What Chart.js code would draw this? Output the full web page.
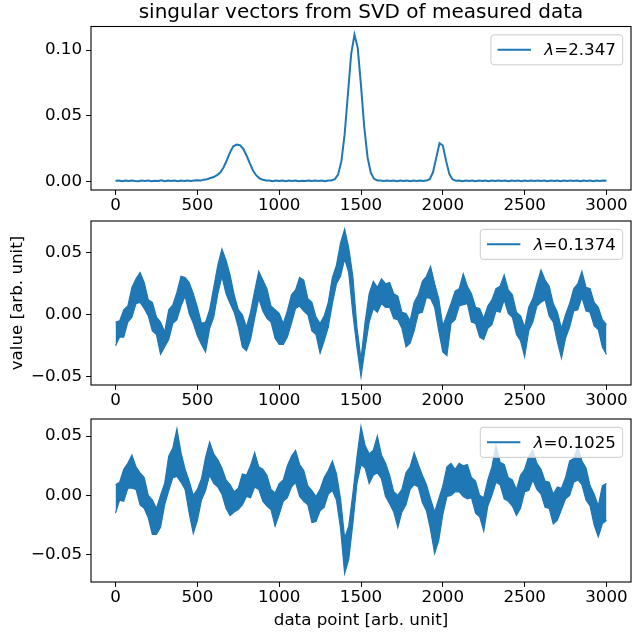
<!DOCTYPE html>
<html>
<head>
<meta charset="utf-8">
<script src="https://cdn.jsdelivr.net/npm/chart.js@4/dist/chart.umd.min.js"></script>
<style>
  html, body { margin: 0; padding: 0; background: #fff; }
  #wrap { position: relative; width: 632px; height: 633px; }
  canvas { position: absolute; left: 0; }
</style>
</head>
<body>
<div id="wrap">
  <canvas id="c1" width="632" height="214" style="top:0px"></canvas>
  <canvas id="c2" width="632" height="196" style="top:214px"></canvas>
  <canvas id="c3" width="632" height="223" style="top:410px"></canvas>
</div>
<script>
const LINE_COLOR = '#1f77b4';
const FONT_FAMILY = 'DejaVu Sans';
const FS = 16.7;

const titleText = 'singular vectors from SVD of measured data';
const xTitle = 'data point [arb. unit]';
const yTitle = 'value [arb. unit]';

const xTicks = [0, 500, 1000, 1500, 2000, 2500, 3000];
const xRange = [-150, 3150];

// panel 1 - first singular vector, one value every 20 data points
const v1Step = 20;
const v1 = [
  0.0003, 0.0006, 0.0000, 0.0005, 0.0001, 0.0006, 0.0002, 0.0000, 0.0005, 0.0001,   // 0-180
  0.0006, 0.0000, 0.0004, 0.0002, 0.0007, 0.0000, 0.0005, 0.0001, 0.0006, 0.0000,   // 200-380
  0.0005, 0.0002, 0.0006, 0.0001, 0.0005,                                           // 400-480
  0.0007, 0.0006, 0.0012, 0.0015, 0.0024, 0.0032, 0.0047, 0.0066, 0.0105, 0.0160,   // 500-680
  0.0222, 0.0266, 0.0280, 0.0275, 0.0248, 0.0198, 0.0138, 0.0082, 0.0044, 0.0022,   // 700-880
  0.0011, 0.0006,                                                                   // 900-920
  0.0005, 0.0000, 0.0005, 0.0001, 0.0006, 0.0000, 0.0005, 0.0002, 0.0006, 0.0000,   // 940-1120
  0.0004, 0.0001, 0.0006, 0.0001, 0.0005, 0.0002, 0.0006, 0.0000, 0.0005,           // 1140-1300
  0.0006, 0.0015, 0.0051, 0.0151, 0.0357, 0.0663, 0.0970, 0.1118, 0.1017, 0.0729,   // 1320-1500
  0.0411, 0.0183, 0.0064, 0.0018, 0.0006,                                           // 1520-1600
  0.0005, 0.0001, 0.0005, 0.0002, 0.0006, 0.0000, 0.0005, 0.0001, 0.0006, 0.0000,   // 1620-1800
  0.0005, 0.0002, 0.0006, 0.0001, 0.0005,                                           // 1820-1900
  0.0016, 0.0068, 0.0180, 0.0290, 0.0272, 0.0155, 0.0054, 0.0013, 0.0004,           // 1920-2080
  0.0006, 0.0000, 0.0005, 0.0001, 0.0006, 0.0000, 0.0005, 0.0002, 0.0006, 0.0000,   // 2100-2280
  0.0005, 0.0001, 0.0006, 0.0002, 0.0005, 0.0000, 0.0006, 0.0001, 0.0005, 0.0000,   // 2300-2480
  0.0006, 0.0001, 0.0005, 0.0001, 0.0006, 0.0002, 0.0005, 0.0000, 0.0006, 0.0001,   // 2500-2680
  0.0005, 0.0000, 0.0006, 0.0002, 0.0005, 0.0001, 0.0006, 0.0000, 0.0005, 0.0001,   // 2700-2880
  0.0006, 0.0000, 0.0005, 0.0002, 0.0006, 0.0003                                    // 2900-3000
];
const v1Label = '=2.347';
const v1Range = [-0.0067, 0.118];
const v1Ticks = [0, 0.05, 0.10];

// panels 2 and 3 are very noisy: read as upper and lower edge of the band every 25 points
const bandStep = 25;

const v2Upper = [
  -0.006, -0.005, 0.004, 0.007, 0.022, 0.029, 0.034, 0.026, 0.012, 0.010,     // 0-225
  -0.002, -0.006, -0.014, 0.004, 0.008, 0.018, 0.031, 0.030, 0.026, 0.017,    // 250-475
  0.006, -0.007, -0.006, 0.004, 0.022, 0.040, 0.053, 0.044, 0.032, 0.016,     // 500-725
  0.004, 0.000, -0.010, 0.002, 0.019, 0.035, 0.028, 0.021, 0.007, 0.004,      // 750-975
  0.001, -0.007, 0.003, 0.016, 0.020, 0.030, 0.028, 0.013, 0.010, -0.002,     // 1000-1225
  -0.007, -0.001, 0.010, 0.030, 0.040, 0.058, 0.069, 0.054, 0.031, -0.010,    // 1250-1475
  -0.036, -0.006, 0.017, 0.027, 0.022, 0.029, 0.025, 0.026, 0.017, 0.015,     // 1500-1725
  0.002, 0.001, -0.005, 0.010, 0.016, 0.027, 0.031, 0.039, 0.025, 0.013,      // 1750-1975
  -0.009, 0.000, 0.009, 0.019, 0.021, 0.033, 0.023, 0.017, 0.006, 0.005,      // 2000-2225
  -0.003, 0.007, 0.012, 0.021, 0.023, 0.032, 0.020, 0.016, 0.002, -0.001,     // 2250-2475
  -0.010, 0.006, 0.013, 0.025, 0.036, 0.028, 0.023, 0.009, 0.002, -0.011,     // 2500-2725
  0.000, 0.009, 0.021, 0.025, 0.035, 0.022, 0.021, 0.010, 0.006, -0.004,      // 2750-2975
  -0.008                                                                      // 3000
];
const v2Lower = [
  -0.025, -0.018, -0.018, -0.006, -0.002, 0.009, 0.010, 0.005, -0.001, -0.013,
  -0.016, -0.032, -0.026, -0.020, -0.007, -0.004, 0.007, 0.015, 0.001, -0.007,
  -0.017, -0.024, -0.030, -0.011, -0.002, 0.017, 0.031, 0.017, 0.009, 0.002,
  -0.010, -0.026, -0.029, -0.020, -0.003, 0.013, 0.003, -0.003, -0.006, -0.019,
  -0.024, -0.024, -0.018, -0.007, 0.005, 0.007, 0.003, 0.000, -0.013, -0.016,
  -0.031, -0.021, -0.010, 0.009, 0.025, 0.031, 0.045, 0.034, 0.001, -0.026,
  -0.050, -0.027, -0.006, 0.005, 0.002, 0.009, 0.006, 0.006, -0.003, -0.004,
  -0.011, -0.026, -0.023, -0.013, 0.001, 0.002, 0.014, 0.013, 0.006, -0.013,
  -0.030, -0.033, -0.007, -0.004, 0.007, 0.008, 0.009, -0.006, -0.007, -0.018,
  -0.020, -0.011, -0.008, 0.003, 0.002, 0.012, 0.001, -0.002, -0.016, -0.021,
  -0.034, -0.013, -0.006, 0.007, 0.010, 0.012, -0.001, -0.006, -0.022, -0.035,
  -0.019, -0.010, 0.003, 0.004, 0.014, 0.003, 0.002, -0.009, -0.012, -0.026,
  -0.032
];
const v2Label = '=0.1374';
const v2Range = [-0.0567, 0.0756];
const v2Ticks = [-0.05, 0, 0.05];

const v3Upper = [
  0.009, 0.011, 0.022, 0.027, 0.034, 0.024, 0.019, 0.015, 0.000, -0.004,      // 0-225
  -0.011, 0.000, 0.010, 0.033, 0.040, 0.056, 0.036, 0.022, 0.012, 0.000,      // 250-475
  0.005, 0.014, 0.032, 0.045, 0.035, 0.030, 0.023, 0.013, 0.009, 0.003,       // 500-725
  0.006, 0.018, 0.017, 0.025, 0.036, 0.024, 0.022, 0.017, 0.005, 0.002,       // 750-975
  0.010, 0.013, 0.025, 0.033, 0.038, 0.026, 0.021, 0.008, 0.004, -0.001,      // 1000-1225
  0.005, 0.015, 0.021, 0.029, 0.018, -0.003, -0.036, -0.026, 0.001, 0.032,    // 1250-1475
  0.058, 0.042, 0.035, 0.038, 0.050, 0.034, 0.027, 0.017, 0.003, 0.000,       // 1500-1725
  0.005, 0.019, 0.024, 0.036, 0.026, 0.017, 0.009, -0.003, -0.014, -0.003,    // 1750-1975
  0.008, 0.024, 0.027, 0.022, 0.027, 0.025, 0.026, 0.015, 0.012, 0.000,       // 2000-2225
  -0.002, 0.013, 0.024, 0.042, 0.028, 0.026, 0.015, 0.013, 0.005, 0.017,      // 2250-2475
  0.022, 0.033, 0.038, 0.027, 0.022, 0.012, 0.011, 0.001, 0.007, 0.006,       // 2500-2725
  0.015, 0.029, 0.031, 0.041, 0.029, 0.023, 0.008, 0.001, -0.009, 0.008,      // 2750-2975
  0.010                                                                       // 3000
];
const v3Lower = [
  -0.015, -0.004, -0.005, 0.006, 0.006, 0.005, -0.008, -0.011, -0.019, -0.033,
  -0.033, -0.027, -0.008, 0.004, 0.015, 0.016, 0.011, 0.005, -0.015, -0.032,
  -0.021, -0.004, 0.004, 0.017, 0.010, 0.007, 0.001, -0.011, -0.017, -0.014,
  -0.012, -0.008, -0.001, -0.002, 0.007, 0.005, -0.005, -0.009, -0.012, -0.026,
  -0.016, -0.005, -0.002, 0.007, 0.011, -0.001, -0.005, -0.008, -0.023, -0.022,
  -0.013, -0.010, 0.001, 0.004, -0.004, -0.028, -0.066, -0.054, -0.024, 0.010,
  0.026, 0.023, 0.010, 0.017, 0.019, 0.014, -0.001, -0.007, -0.014, -0.027,
  -0.014, -0.008, 0.005, 0.009, 0.007, -0.006, -0.013, -0.029, -0.049, -0.038,
  -0.016, -0.001, 0.000, 0.003, 0.003, -0.001, -0.003, -0.002, -0.015, -0.018,
  -0.030, -0.009, 0.000, 0.011, 0.009, -0.003, -0.005, -0.009, -0.017, -0.011,
  0.003, 0.004, 0.013, 0.005, 0.001, -0.010, -0.011, -0.024, -0.021, -0.012,
  -0.003, 0.000, 0.011, 0.013, 0.009, -0.004, -0.009, -0.025, -0.035, -0.024,
  -0.021
];
const v3Label = '=0.1025';
const v3Range = [-0.0731, 0.0644];
const v3Ticks = [-0.05, 0, 0.05];

function toPoints(values, step) {
  return values.map((y, i) => ({ x: i * step, y: y }));
}

function font(size, style) {
  return (style ? style + ' ' : '') + size + 'px "' + FONT_FAMILY + '"';
}

// frame, legend box and (optional) title, drawn like matplotlib does
const panelDecor = {
  id: 'panelDecor',
  afterDatasetsDraw(chart, args, opts) {
    const ctx = chart.ctx;
    const a = chart.chartArea;
    ctx.save();
    ctx.strokeStyle = '#000';
    ctx.lineWidth = 1.1;
    ctx.strokeRect(a.left, a.top, a.right - a.left, a.bottom - a.top);

    ctx.font = font(FS, 'italic');
    const wSym = ctx.measureText('\u03bb').width;
    ctx.font = font(FS);
    const wTxt = ctx.measureText(opts.label).width;
    const pad = 0.4 * FS, handle = 2 * FS, gap = 0.8 * FS;
    const bw = pad + handle + gap + wSym + wTxt + pad;
    const bh = 30;
    const bx = a.right - 0.5 * FS - bw;
    const by = a.top + 0.5 * FS;
    ctx.beginPath();
    ctx.roundRect(bx, by, bw, bh, 3);
    ctx.fillStyle = 'rgba(255,255,255,0.8)';
    ctx.fill();
    ctx.strokeStyle = '#cccccc';
    ctx.lineWidth = 1;
    ctx.stroke();

    const cy = by + bh / 2;
    ctx.strokeStyle = LINE_COLOR;
    ctx.lineWidth = 2;
    ctx.beginPath();
    ctx.moveTo(bx + pad, cy);
    ctx.lineTo(bx + pad + handle, cy);
    ctx.stroke();

    ctx.fillStyle = '#000';
    ctx.textBaseline = 'middle';
    ctx.textAlign = 'left';
    const tx = bx + pad + handle + gap;
    ctx.font = font(FS, 'italic');
    ctx.fillText('\u03bb', tx, cy + 1);
    ctx.font = font(FS);
    ctx.fillText(opts.label, tx + wSym, cy + 1);

    if (opts.title) {
      ctx.font = font(20);
      ctx.textAlign = 'center';
      ctx.textBaseline = 'alphabetic';
      ctx.fillText(opts.title, (a.left + a.right) / 2, a.top - 8.3);
    }
    ctx.restore();
  }
};

function makeChart(id, datasets, cfg) {
  const tickGrid = {
    display: true, drawOnChartArea: false, drawTicks: true,
    tickLength: 4.9, tickColor: '#000', lineWidth: 1
  };
  return new Chart(document.getElementById(id), {
    type: 'line',
    data: { datasets: datasets },
    options: {
      responsive: false,
      animation: false,
      events: [],
      layout: { padding: { top: cfg.padTop, right: 1, left: 0, bottom: 0 } },
      plugins: {
        legend: { display: false },
        tooltip: { enabled: false },
        panelDecor: { label: cfg.label, title: cfg.title || '' }
      },
      scales: {
        x: {
          type: 'linear', min: xRange[0], max: xRange[1],
          afterBuildTicks: s => { s.ticks = xTicks.map(v => ({ value: v })); },
          afterFit: s => { s.height = cfg.xHeight; s.paddingLeft = 0; s.paddingRight = 0; },
          ticks: { color: '#000', font: { family: FONT_FAMILY, size: FS }, padding: 0.5, maxRotation: 0, autoSkip: false, callback: v => String(v) },
          grid: tickGrid,
          border: { display: false },
          title: { display: !!cfg.xTitle, text: cfg.xTitle || '', color: '#000', font: { family: FONT_FAMILY, size: FS }, padding: { top: 0, bottom: 2 } }
        },
        y: {
          type: 'linear', min: cfg.range[0], max: cfg.range[1],
          afterBuildTicks: s => { s.ticks = cfg.ticks.map(v => ({ value: v })); },
          afterFit: s => { s.width = 91; s.paddingTop = 0; s.paddingBottom = 0; },
          ticks: { color: '#000', font: { family: FONT_FAMILY, size: FS }, padding: 4, callback: v => v.toFixed(2).replace('-', '\u2212') },
          grid: tickGrid,
          border: { display: false },
          title: { display: !!cfg.yTitle, text: cfg.yTitle || '', color: '#000', font: { family: FONT_FAMILY, size: FS }, padding: { top: 8, bottom: 0 } }
        }
      }
    },
    plugins: [panelDecor]
  });
}

function bandSets(upper, lower) {
  return [
    { data: toPoints(lower, bandStep), borderColor: LINE_COLOR, borderWidth: 1.2, pointRadius: 0, fill: false },
    { data: toPoints(upper, bandStep), borderColor: LINE_COLOR, backgroundColor: LINE_COLOR, borderWidth: 1.2, pointRadius: 0, fill: '-1' }
  ];
}

makeChart('c1',
  [{ data: toPoints(v1, v1Step), borderColor: LINE_COLOR, borderWidth: 2, pointRadius: 0, fill: false }],
  { padTop: 26.5, xHeight: 24, range: v1Range, ticks: v1Ticks, label: v1Label, title: titleText });

makeChart('c2', bandSets(v2Upper, v2Lower),
  { padTop: 7, xHeight: 25, range: v2Range, ticks: v2Ticks, label: v2Label, yTitle: yTitle });

makeChart('c3', bandSets(v3Upper, v3Lower),
  { padTop: 9, xHeight: 51, range: v3Range, ticks: v3Ticks, label: v3Label, xTitle: xTitle });
</script>
</body>
</html>
